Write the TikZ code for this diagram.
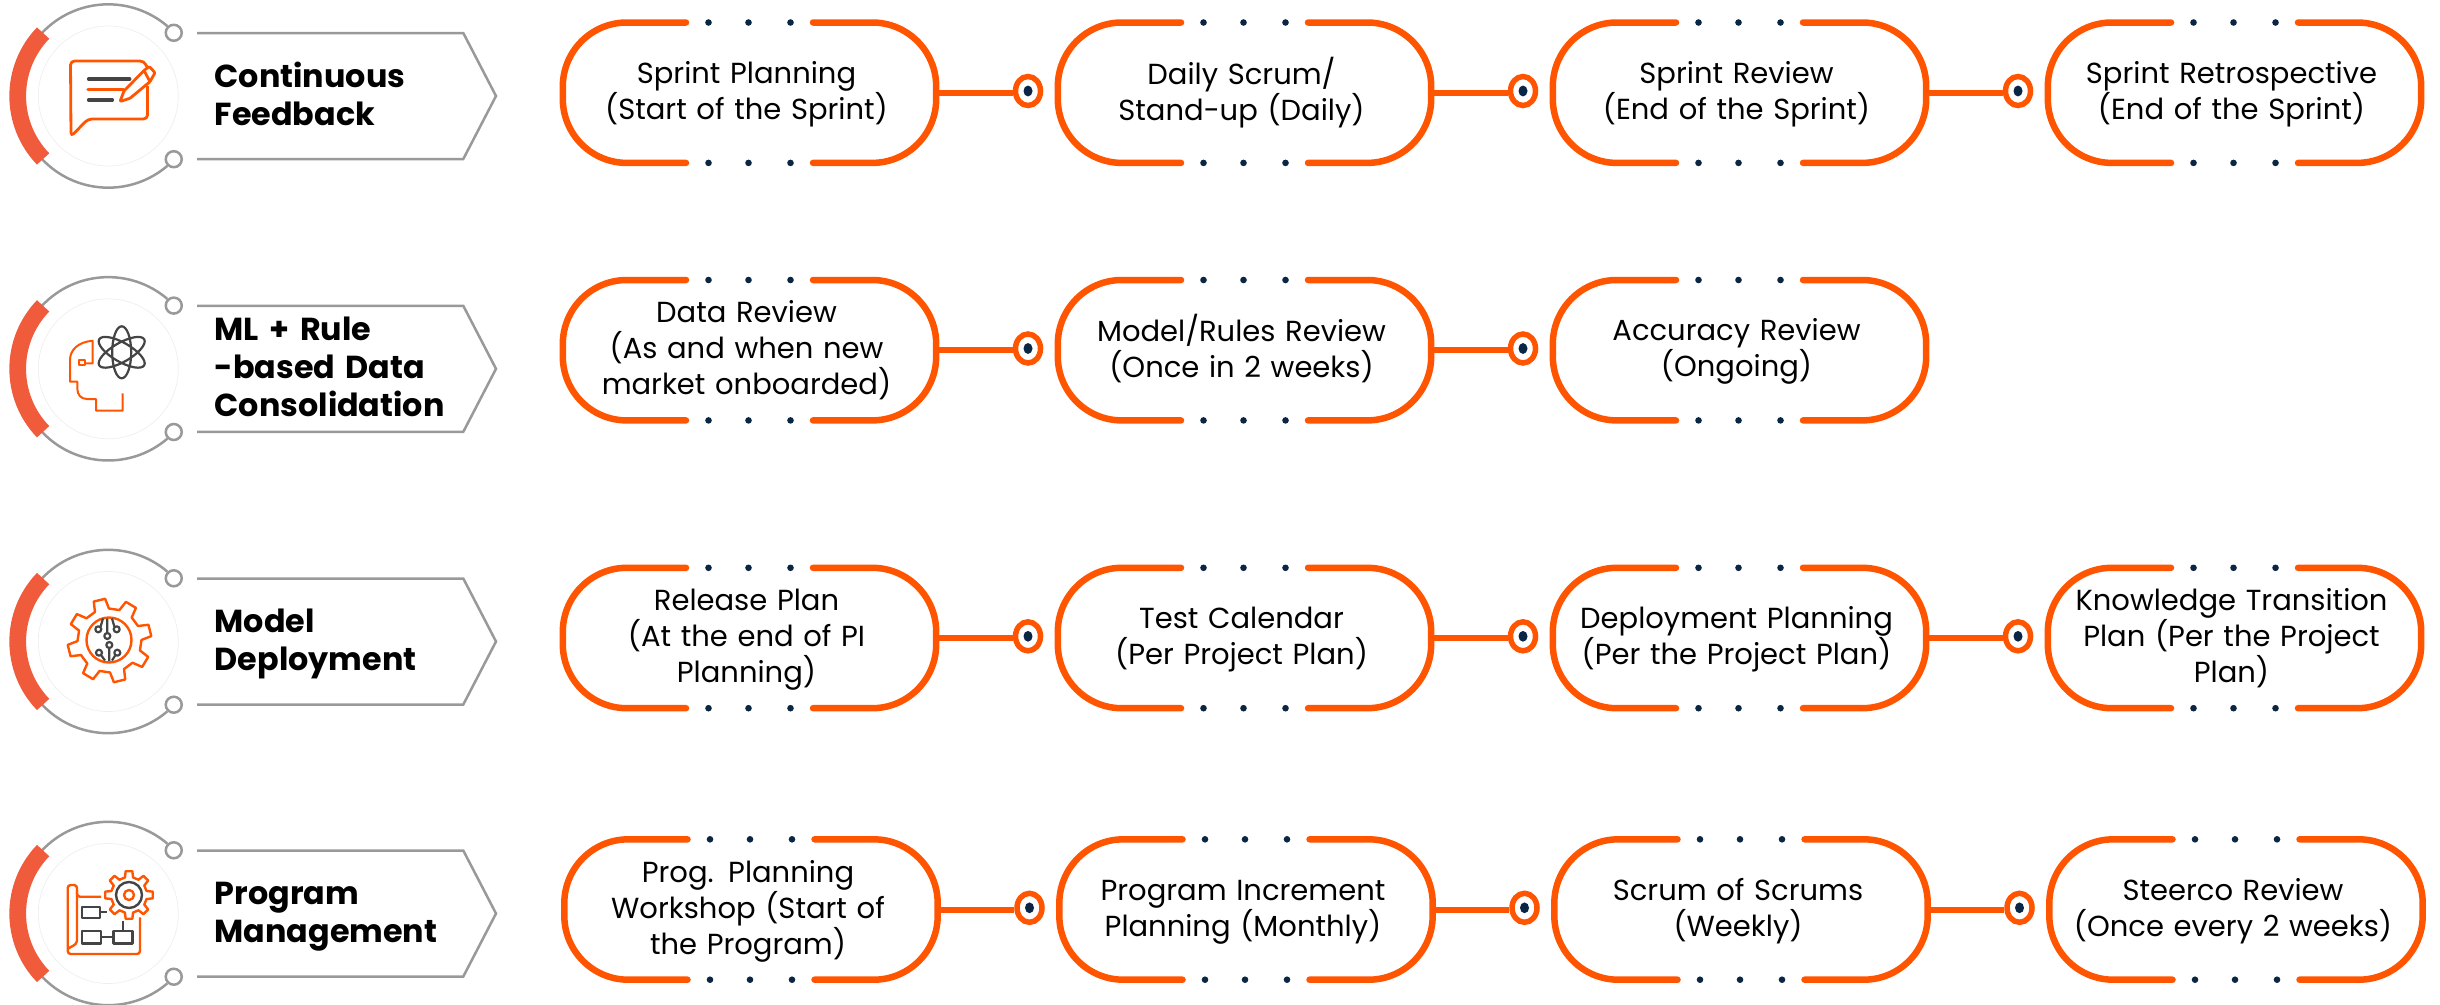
\documentclass[tikz,border=0pt]{standalone}
\usepackage{fontspec}
\setmainfont{Poppins}
\usetikzlibrary{shapes.geometric}

\definecolor{pillorange}{HTML}{FF5500}
\definecolor{arcred}{HTML}{EF5B3B}
\definecolor{ringgrey}{HTML}{999999}
\definecolor{thingrey}{HTML}{EEEEEE}
\definecolor{inkgrey}{HTML}{444444}
\definecolor{navy}{HTML}{0B2545}

\tikzset{
  pill/.style={text width=379pt,minimum height=140pt,inner sep=0pt,align=center,
    font=\fontsize{29pt}{36pt}\selectfont,
    execute at begin node={\rule[-8pt]{0pt}{33pt}},
    execute at end node={\rule[-8pt]{0pt}{33pt}}},
  pillline/.style={draw=pillorange,line width=6.5pt,line cap=round},
  wire/.style={draw=pillorange,line width=6pt},
  hub/.style={ellipse,draw=pillorange,fill=white,line width=5.5pt,inner sep=0pt,
    minimum width=25pt,minimum height=29pt,yshift=1.7pt,
    path picture={\fill[navy] (path picture bounding box.center) ellipse (4.5pt and 5.4pt);}},
  ring/.style={circle,draw=thingrey,line width=0.7pt,minimum size=140pt,inner sep=0pt},
  knob/.style={circle,draw=ringgrey,fill=white,line width=2.5pt,minimum size=16pt,inner sep=0pt},
  greyline/.style={draw=ringgrey,line width=2.5pt},
  redarc/.style={draw=arcred,line width=16.7pt},
  tag/.style={anchor=west,text width=270pt,inner sep=0pt,align=left,
    font=\fontsize{31.8pt}{38pt}\selectfont\bfseries,
    execute at begin node={\rule[-8pt]{0pt}{36pt}},
    execute at end node={\rule[-8pt]{0pt}{36pt}}},
  iconorange/.style={draw=pillorange,line width=2.4pt,line join=round},
  icondark/.style={draw=inkgrey,line width=2.2pt,line join=round}
}

% outline of a pill with its gaps and dots
\newcommand{\pillframe}[1]{
  \draw[pillline,rounded corners=64pt] ([xshift=-60.5pt]#1.north) -- ([xshift=6pt]#1.north west)
    -- ([xshift=6pt]#1.south west) -- ([xshift=-60.5pt]#1.south);
  \draw[pillline,rounded corners=64pt] ([xshift=66.5pt]#1.north) -- (#1.north east)
    -- (#1.south east) -- ([xshift=66.5pt]#1.south);
  \fill[navy] ([xshift=-38pt]#1.north) circle (3.3pt) (#1.north) ++(2pt,0pt) circle (3.3pt)
    ([xshift=44pt]#1.north) circle (3.3pt);
  \fill[navy] ([xshift=-38pt]#1.south) circle (3.3pt) (#1.south) ++(2pt,0pt) circle (3.3pt)
    ([xshift=44pt]#1.south) circle (3.3pt);
}

% ring, knobs, red arc and chevron round a row title
\newcommand{\badge}[1]{
  \node[knob] (#1u) at ([shift={(44:91pt)}]#1.center) {};
  \node[knob] (#1d) at ([shift={(-44:91pt)}]#1.center) {};
  \draw[greyline] (#1u.134) arc[start angle=49.5,end angle=137,radius=91pt];
  \draw[greyline] (#1d.226) arc[start angle=310.5,end angle=223,radius=91pt];
  \draw[redarc] ([shift={(136:90.6pt)}]#1.center) arc[start angle=136,end angle=224,radius=90.6pt];
  \draw[greyline] ([xshift=88.7pt,yshift=63pt]#1.center) -- ++(266.3pt,0pt) -- ++(32.7pt,-63pt)
    -- ++(-32.7pt,-63pt) -- ++(-266.3pt,0pt);
}

% gear: centre, tip radius, root radius, turn
\newcommand{\gearicon}[4]{
  \begin{scope}[shift={#1}]
    \draw[iconorange] (#4-13:#3pt) \foreach \k in {0,...,7}{
      -- ({#4+45*\k-13}:#3pt) -- ({#4+45*\k-8}:#2pt) -- ({#4+45*\k+8}:#2pt) -- ({#4+45*\k+13}:#3pt)} -- cycle;
  \end{scope}
}

\begin{document}
\begin{tikzpicture}[x=1pt,y=-1pt,node distance=495pt]
  \useasboundingbox (0,0) rectangle (2440,1004);

  % row titles
  \node[ring] (ra) at (108.3,96) {};
  \node[ring] (rb) at (108.3,368.8) {};
  \node[ring] (rc) at (108.3,641.5) {};
  \node[ring] (rd) at (108.3,913.5) {};
  \badge{ra}
  \badge{rb}
  \badge{rc}
  \badge{rd}
  \node[tag] (la) at (214.5,96) {Continuous\\Feedback};
  \node[tag] (lb) at (214.5,368.8) {ML + Rule\\-based Data\\Consolidation};
  \node[tag] (lc) at (214.5,641.5) {Model\\Deployment};
  \node[tag] (ld) at (214.5,913.5) {Program\\Management};

  % feedback icon
  \draw[iconorange,line width=2.8pt,rounded corners=4pt] (147.5,86) -- (147.5,119) -- (88,119)
    -- (71,136.5) -- (70.5,61) -- (144,61) -- (147,67);
  \draw[icondark,line width=3.5pt,line cap=round] (88.7,79) -- (129.7,79) (88.7,100) -- (112.3,100);
  \draw[iconorange,line width=3.2pt,line cap=round] (88,89.7) -- (123.3,89.7);
  \draw[iconorange,line width=2.8pt,rounded corners=1pt] (120,101.5) -- (124,91) -- (144,70.5) -- (149.3,66.5)
    -- (155,72.7) -- (150,81.7) -- (130,98.3) -- cycle (144,70.5) -- (150,81.7);

  % head and atom icon
  \draw[iconorange,line width=2pt] (85,363.3) -- (92.7,363.3) -- (92.7,340.7) .. controls (78,342) and (70,350) .. (70,360)
    -- (70,381.7) -- (77.3,381.7) -- (77.3,388.3) .. controls (77.3,395) and (81,399) .. (87.3,399)
    -- (96,399) -- (96,410.7) -- (122.7,410.7) -- (122.7,393.3);
  \draw[iconorange,line width=2pt] (79.3,360) rectangle (84.7,365);
  \draw[icondark] (121.7,352.3) ellipse [x radius=26pt,y radius=9.5pt,rotate=90]
    (121.7,352.3) ellipse [x radius=26pt,y radius=9.5pt,rotate=30]
    (121.7,352.3) ellipse [x radius=26pt,y radius=9.5pt,rotate=-30];

  % gear and circuit icon
  \gearicon{(109.5,640.5)}{42}{32}{14}
  \draw[iconorange] (109,640) circle (22.5pt);
  \draw[icondark] (107.3,636) circle (3pt) (109.3,645) circle (3pt) (98.3,629.3) circle (3pt)
    (116.7,629.3) circle (3pt) (99,652.7) circle (3pt) (117.3,652.7) circle (3pt)
    (107.3,633) -- (107.3,618.5) (100.5,627) -- (103,618.5) (114.5,627) -- (112,618.5)
    (109.3,648) -- (109.3,661) (101,655) -- (105,660.5) (115.5,655) -- (112,660.5);

  % plan and gear icon
  \gearicon{(129,895)}{24}{18}{0}
  \draw[icondark,line width=2.4pt] (129,895) circle (13pt);
  \draw[iconorange] (129,895) circle (5pt);
  \draw[iconorange,rounded corners=3pt] (101,896.7) -- (77,896.7) -- (77,885) -- (67.7,885) -- (67.7,954)
    -- (140,954) -- (140,917.3);
  \draw[iconorange] (77,890) -- (77,941) .. controls (76,946) and (71,946) .. (67.7,949);
  \draw[icondark,line width=2.4pt] (81.7,906.7) rectangle (100,917.7) (100,911.7) -- (106.7,911.7)
    (81.7,930.7) rectangle (100.7,943.3) (113.3,930.7) rectangle (132.3,943.3)
    (100.7,937) -- (113.3,937) (122.7,930.7) -- (122.7,921);

  % first row
  \node[pill] (a1) at (746.5,92.7) {Sprint Planning\\(Start of the Sprint)};
  \node[pill] (a2) [right of=a1] {Daily Scrum/\\Stand-up (Daily)};
  \node[pill] (a3) [right of=a2] {Sprint Review\\(End of the Sprint)};
  \node[pill] (a4) [right of=a3] {Sprint Retrospective\\(End of the Sprint)};
  \node[hub,node distance=281.5pt] (ha1) [right of=a1] {};
  \node[hub,node distance=281.5pt] (ha2) [right of=a2] {};
  \node[hub,node distance=281.5pt] (ha3) [right of=a3] {};

  % second row
  \node[pill] (b1) at (746.5,350.2) {Data Review\\(As and when new\\market onboarded)};
  \node[pill] (b2) [right of=b1] {Model/Rules Review\\(Once in 2 weeks)};
  \node[pill] (b3) [right of=b2] {Accuracy Review\\(Ongoing)};
  \node[hub,node distance=281.5pt] (hb1) [right of=b1] {};
  \node[hub,node distance=281.5pt] (hb2) [right of=b2] {};

  % third row
  \node[pill] (c1) at (746.5,638) {Release Plan\\(At the end of PI\\Planning)};
  \node[pill] (c2) [right of=c1] {Test Calendar\\(Per Project Plan)};
  \node[pill] (c3) [right of=c2] {Deployment Planning\\(Per the Project Plan)};
  \node[pill] (c4) [right of=c3] {Knowledge Transition\\Plan (Per the Project\\Plan)};
  \node[hub,node distance=281.5pt] (hc1) [right of=c1] {};
  \node[hub,node distance=281.5pt] (hc2) [right of=c2] {};
  \node[hub,node distance=281.5pt] (hc3) [right of=c3] {};

  % fourth row
  \node[pill] (d1) at (748,909.5) {Prog. Planning\\Workshop (Start of\\the Program)};
  \node[pill] (d2) [right of=d1] {Program Increment\\Planning (Monthly)};
  \node[pill] (d3) [right of=d2] {Scrum of Scrums\\(Weekly)};
  \node[pill] (d4) [right of=d3] {Steerco Review\\(Once every 2 weeks)};
  \node[hub,node distance=281.5pt] (hd1) [right of=d1] {};
  \node[hub,node distance=281.5pt] (hd2) [right of=d2] {};
  \node[hub,node distance=281.5pt] (hd3) [right of=d3] {};

  \pillframe{a1} \pillframe{a2} \pillframe{a3} \pillframe{a4}
  \pillframe{b1} \pillframe{b2} \pillframe{b3}
  \pillframe{c1} \pillframe{c2} \pillframe{c3} \pillframe{c4}
  \pillframe{d1} \pillframe{d2} \pillframe{d3} \pillframe{d4}

  \path[wire] (a1.east) edge (a1.east -| ha1.west)
    (a2.east) edge (a2.east -| ha2.west)
    (a3.east) edge (a3.east -| ha3.west)
    (b1.east) edge (b1.east -| hb1.west)
    (b2.east) edge (b2.east -| hb2.west)
    (c1.east) edge (c1.east -| hc1.west)
    (c2.east) edge (c2.east -| hc2.west)
    (c3.east) edge (c3.east -| hc3.west)
    (d1.east) edge (d1.east -| hd1.west)
    (d2.east) edge (d2.east -| hd2.west)
    (d3.east) edge (d3.east -| hd3.west);
\end{tikzpicture}
\end{document}
